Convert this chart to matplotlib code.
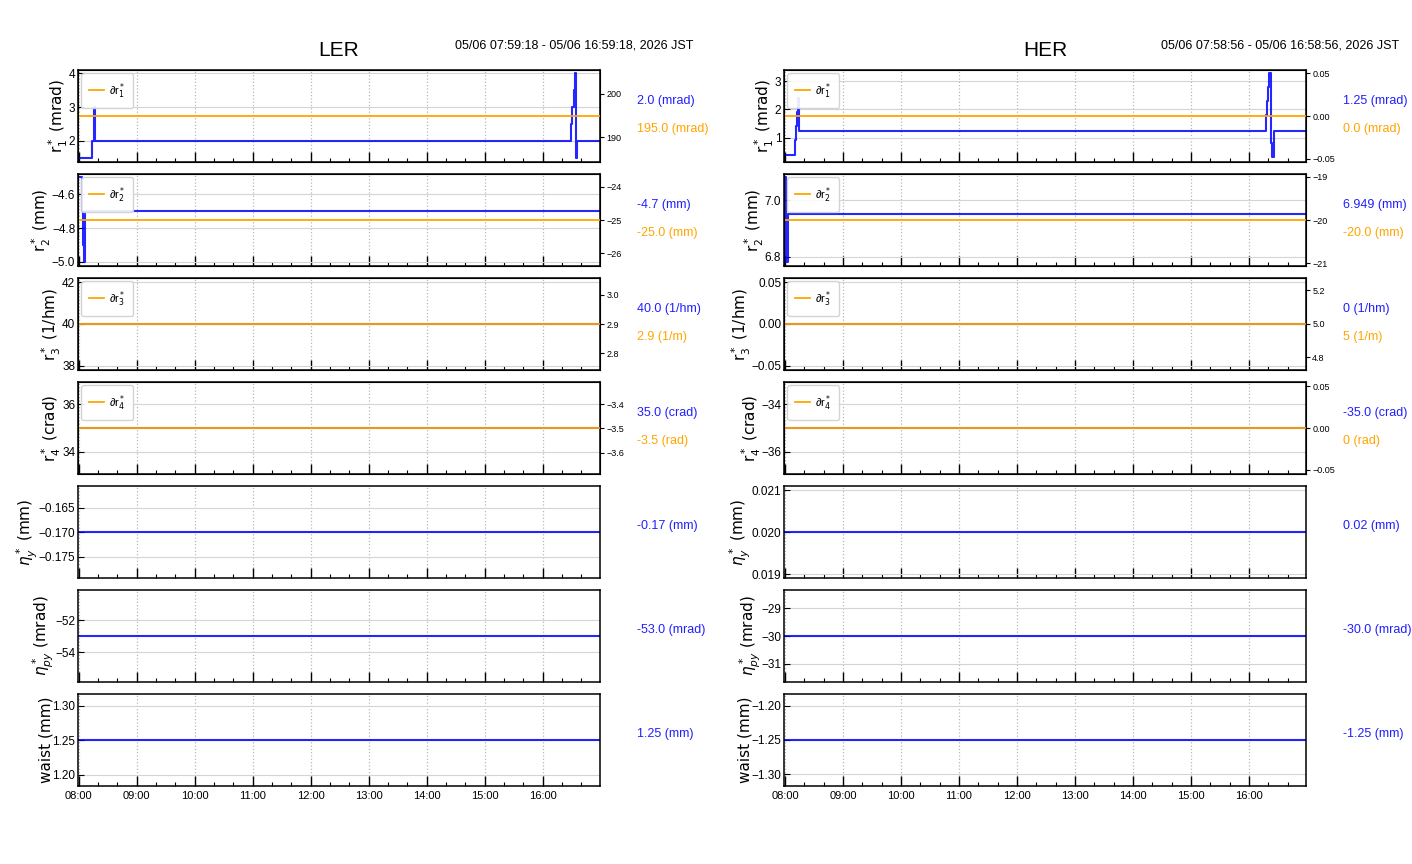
import numpy as np
import matplotlib
matplotlib.use("Agg")
import matplotlib.pyplot as plt
import matplotlib.dates as mdates
from datetime import datetime

plt.rcParams['font.family'] = ['Liberation Sans', 'DejaVu Sans']

DAY = "2026-05-06 "

def T(s):
    if s.count(":") == 1:
        s = s + ":00"
    return datetime.strptime(DAY + s, "%Y-%m-%d %H:%M:%S")

# ---------------- data ----------------
ler_span = ["07:59:18", "16:59:18"]
her_span = ["07:58:56", "16:58:56"]
ler_period = "05/06 07:59:18 - 05/06 16:59:18, 2026 JST"
her_period = "05/06 07:58:56 - 05/06 16:58:56, 2026 JST"

# LER knobs (blue, left axis)
ler_r1_t = ["07:59:18", "08:14", "08:15:30", "08:16", "08:17", "16:29", "16:30", "16:32", "16:33", "16:34", "16:36", "16:59:18"]
ler_r1_v = [1.5, 2.0, 2.5, 3.0, 2.0, 2.5, 3.0, 3.5, 4.0, 1.5, 2.0, 2.0]
ler_r2_t = ["07:59:18", "08:03:30", "08:04", "08:04:30", "08:05", "08:07", "16:59:18"]
ler_r2_v = [-4.5, -4.7, -4.8, -4.9, -5.0, -4.7, -4.7]
ler_r3 = 40.0
ler_r4 = 35.0
ler_ny = -0.17
ler_npy = -53.0
ler_waist = 1.25
# LER d-knobs (orange, right axis)
ler_dr = [195.0, -25.0, 2.9, -3.5]

# HER knobs
her_r1_t = ["07:58:56", "08:10", "08:11", "08:12", "08:13", "08:14:45", "16:18", "16:19", "16:20", "16:21", "16:23", "16:24", "16:26", "16:58:56"]
her_r1_v = [0.4, 0.9, 1.4, 1.9, 2.4, 1.25, 1.8, 2.3, 2.8, 3.3, 0.8, 0.3, 1.25, 1.25]
her_r2_t = ["07:58:56", "07:59:30", "08:01", "08:03:30", "16:58:56"]
her_r2_v = [6.85, 7.08, 6.78, 6.949, 6.949]
her_r3 = 0.0
her_r4 = -35.0
her_ny = 0.02
her_npy = -30.0
her_waist = -1.25
her_dr = [0.0, -20.0, 5.0, 0.0]

ylabels = [r"r$_1^*$ (mrad)", r"r$_2^*$ (mm)", r"r$_3^*$ (1/hm)", r"r$_4^*$ (crad)",
           r"$\eta_y^*$ (mm)", r"$\eta_{py}^*$ (mrad)", "waist (mm)"]
legend_labels = [r"∂r$_1^*$", r"∂r$_2^*$", r"∂r$_3^*$", r"∂r$_4^*$"]

ler_blue_text = ["2.0 (mrad)", "-4.7 (mm)", "40.0 (1/hm)", "35.0 (crad)", "-0.17 (mm)", "-53.0 (mrad)", "1.25 (mm)"]
ler_orange_text = ["195.0 (mrad)", "-25.0 (mm)", "2.9 (1/m)", "-3.5 (rad)"]
her_blue_text = ["1.25 (mrad)", "6.949 (mm)", "0 (1/hm)", "-35.0 (crad)", "0.02 (mm)", "-30.0 (mrad)", "-1.25 (mm)"]
her_orange_text = ["0.0 (mrad)", "-20.0 (mm)", "5 (1/m)", "0 (rad)"]

# axis ranges / ticks
ler_ylim = [(1.38, 4.09), (-5.025, -4.48), (37.8, 42.2), (33.08, 36.92),
            (-0.1793, -0.1606), (-55.86, -50.1), (1.184, 1.3174)]
ler_yticks = [[2, 3, 4], [-5.0, -4.8, -4.6], [38, 40, 42], [34, 36],
              [-0.175, -0.170, -0.165], [-54, -52], [1.20, 1.25, 1.30]]
ler_ylim2 = [(184.3, 205.5), (-26.38, -23.62), (2.743, 3.058), (-3.688, -3.308)]
ler_yticks2 = [[190, 200], [-26, -25, -24], [2.8, 2.9, 3.0], [-3.6, -3.5, -3.4]]

her_ylim = [(0.14, 3.39), (6.767, 7.092), (-0.055, 0.055), (-36.92, -33.08),
            (0.01891, 0.0211), (-31.65, -28.34), (-1.317, -1.183)]
her_yticks = [[1, 2, 3], [6.8, 7.0], [-0.05, 0.00, 0.05], [-36, -34],
              [0.019, 0.020, 0.021], [-31, -30, -29], [-1.30, -1.25, -1.20]]
her_ylim2 = [(-0.054, 0.054), (-21.06, -18.94), (4.724, 5.272), (-0.0553, 0.0553)]
her_yticks2 = [[-0.05, 0.00, 0.05], [-21, -20, -19], [4.8, 5.0, 5.2], [-0.05, 0.00, 0.05]]

BLUE = "#0000ff"
ORANGE = "orange"
TXT_BLUE = "#2020ff"

fig = plt.figure(figsize=(14.12, 8.64), dpi=100)
W, H = 1412.0, 864.0


def series(span, r1t, r1v, r2t, r2v, r3, r4, ny, npy, waist):
    t0, t1 = T(span[0]), T(span[1])
    out = [([T(s) for s in r1t], r1v), ([T(s) for s in r2t], r2v)]
    for v in [r3, r4, ny, npy, waist]:
        out.append(([t0, t1], [v, v]))
    return out


def column(x0px, name, period, span, data, dr, ylim, yticks, ylim2, yticks2,
           blue_text, orange_text):
    t0, t1 = T(span[0]), T(span[1])
    left = x0px / W
    width = 522 / W
    fig.text((x0px + 261) / W, 1 - 51 / H, name, ha="center", va="center", fontsize=15)
    fig.text((x0px + 615) / W, 1 - 46 / H, period, ha="right", va="center", fontsize=9)
    for i in range(7):
        top = 70 + 104 * i
        ax = fig.add_axes([left, 1 - (top + 92) / H, width, 92 / H])
        tt, vv = data[i]
        ax.plot(tt, vv, color=BLUE, lw=1.5, alpha=0.85, drawstyle="steps-post")
        ax.set_xlim(t0, t1)
        ax.set_ylim(*ylim[i])
        ax.set_yticks(yticks[i])
        ax.ticklabel_format(axis="y", useOffset=False)
        ax.xaxis.set_major_locator(mdates.HourLocator())
        ax.xaxis.set_minor_locator(mdates.MinuteLocator(byminute=[20, 40]))
        ax.xaxis.set_major_formatter(mdates.DateFormatter("%H:%M"))
        ax.tick_params(axis="x", which="major", direction="in", length=7, width=1, labelsize=8)
        ax.tick_params(axis="x", which="minor", direction="in", length=3, width=0.8)
        ax.tick_params(axis="y", direction="in", length=4, labelsize=8.5, pad=2)
        if i < 6:
            ax.tick_params(axis="x", labelbottom=False)
        ax.grid(axis="x", which="major", linestyle=":", color="#b8b8b8", lw=0.9)
        ax.grid(axis="y", linestyle="-", color="#d4d4d4", lw=0.8)
        ax.set_axisbelow(True)
        for sp in ax.spines.values():
            sp.set_linewidth(1.1)
        ax.set_ylabel(ylabels[i], family=["DejaVu Sans"], fontsize=11, labelpad=-1)
        if i < 4:
            ax2 = ax.twinx()
            ax2.plot([t0, t1], [dr[i], dr[i]], color=ORANGE, lw=1.3, label=legend_labels[i])
            ax2.set_ylim(*ylim2[i])
            ax2.set_yticks(yticks2[i])
            ax2.ticklabel_format(axis="y", useOffset=False)
            ax2.tick_params(axis="y", direction="out", length=3, labelsize=6.5, pad=1.5)
            ax2.legend(loc="upper left", fontsize=8, handlelength=1.3, borderpad=0.7,
                       handletextpad=0.5, borderaxespad=0.3,
                       framealpha=0.9, edgecolor="#d0d0d0")
            ax.text(1.071, 0.663, blue_text[i], transform=ax.transAxes, color=TXT_BLUE,
                    fontsize=9, ha="left", va="center")
            ax.text(1.071, 0.359, orange_text[i], transform=ax.transAxes, color=ORANGE,
                    fontsize=9, ha="left", va="center")
        else:
            ax.text(1.071, 0.565, blue_text[i], transform=ax.transAxes, color=TXT_BLUE,
                    fontsize=9, ha="left", va="center")


ler_data = series(ler_span, ler_r1_t, ler_r1_v, ler_r2_t, ler_r2_v,
                  ler_r3, ler_r4, ler_ny, ler_npy, ler_waist)
her_data = series(her_span, her_r1_t, her_r1_v, her_r2_t, her_r2_v,
                  her_r3, her_r4, her_ny, her_npy, her_waist)

column(78, "LER", ler_period, ler_span, ler_data, ler_dr, ler_ylim, ler_yticks,
       ler_ylim2, ler_yticks2, ler_blue_text, ler_orange_text)
column(784, "HER", her_period, her_span, her_data, her_dr, her_ylim, her_yticks,
       her_ylim2, her_yticks2, her_blue_text, her_orange_text)

fig.savefig("out.png", dpi=100)
